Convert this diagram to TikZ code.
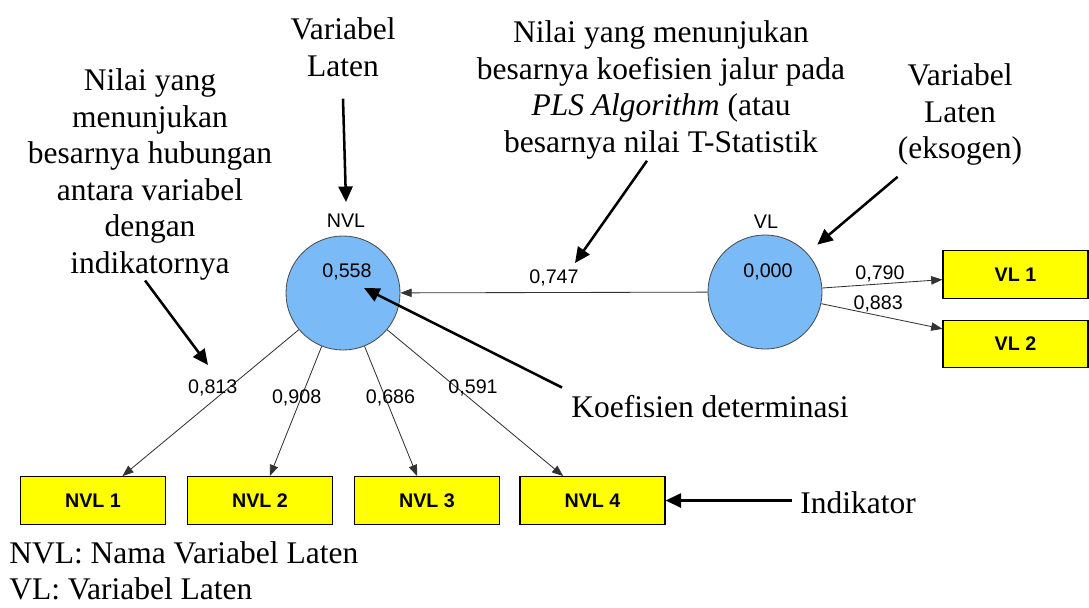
\documentclass[tikz,border=0pt]{standalone}
\usepackage{fontspec}
\setmainfont{Liberation Serif}
\setsansfont{Liberation Sans}
\usepackage{tikz}
\usetikzlibrary{arrows.meta}
\definecolor{latentblue}{RGB}{122,186,247}
\definecolor{indyellow}{RGB}{255,255,0}
\tikzset{latent/.style={circle, draw=black!70, fill=latentblue, line width=0.6pt, minimum size=2.85cm, inner sep=0pt}}
\tikzset{indicator/.style={rectangle, draw=black, fill=indyellow, line width=0.8pt, minimum width=3.625cm, minimum height=1.19cm, inner sep=0pt, font=\sffamily\bfseries\fontsize{14}{16}\selectfont}}
\tikzset{weight/.style={font=\sffamily\fontsize{14}{16}\selectfont, inner sep=1pt}}
\tikzset{loading/.style={draw=black!80, line width=0.6pt, -{Triangle[length=8pt, width=6pt]}}}
\tikzset{note/.style={font=\fontsize{22.4}{26}\selectfont, align=center, inner sep=0pt}}
\tikzset{pointer/.style={line width=1.8pt, -{Triangle[length=11pt, width=10pt]}}}

\begin{document}
\begin{tikzpicture}[x=0.025cm, y=-0.025cm]
    \useasboundingbox (0,0) rectangle (1089,607);
    \node[latent] (nvl) at (343,293) {};
    \node[weight] (nvlname) at (346,221) {NVL};
    \node[weight] (nvlr2) at (347,272) {0,558};
    \node[latent] (vl) at (765,292) {};
    \node[weight] (vlname) at (766,222) {VL};
    \node[weight] (vlr2) at (768,272) {0,000};
    \foreach \i/\x in {1/93, 2/260, 3/427, 4/592.5} {
        \node[indicator] (nvl\i) at (\x,500.5) {NVL \i};
    }
    \node[indicator] (vl1) at (1015.5,274.5) {VL 1};
    \node[indicator] (vl2) at (1015.5,344) {VL 2};
    \draw[loading] (vl) -- node[weight, above, yshift=3pt] (w747) {0,747} (nvl);
    \draw[loading] (vl) -- node[weight, pos=0.48, above] (w790) {0,790} (vl1);
    \draw[loading] (vl) -- node[weight, pos=0.47, above, yshift=1.5pt] (w883) {0,883} (vl2);
    \foreach \i/\w/\dx in {1/{0,813}/-11pt, 2/{0,908}/-3pt, 3/{0,686}/3.5pt, 4/{0,591}/11pt} {
        \draw[loading] (nvl) -- node[weight, pos=0.4, xshift=\dx] (w\i) {\w} (nvl\i);
    }
    \node[note, anchor=north] (latenttxt) at (343,17.5) {Variabel\\Laten};
    \node[note, anchor=north] (hubtxt) at (150,68.5) {Nilai yang\\menunjukan\\besarnya hubungan\\antara variabel\\dengan\\indikatornya};
    \node[note, anchor=north] (jalurtxt) at (661,20.5) {Nilai yang menunjukan\\besarnya koefisien jalur pada\\\textit{PLS Algorithm} (atau\\besarnya nilai T-Statistik};
    \node[note, anchor=north] (eksotxt) at (960,63.5) {Variabel\\Laten\\(eksogen)};
    \node[note, anchor=base west] (koeftxt) at (571,417) {Koefisien determinasi};
    \node[note, anchor=base west] (indtxt) at (800,513) {Indikator};
    \node[note, align=left, anchor=north west] (legend) at (9,541) {NVL: Nama Variabel Laten\\VL: Variabel Laten};
    \coordinate (hubtip) at (208,365);
    \coordinate (jalurtip) at (575,263);
    \coordinate (r2tip) at (364,288);
    \draw[pointer] ([yshift=-15.6pt]latenttxt.south) -- ([yshift=7.5pt]nvlname.north);
    \draw[pointer] ([xshift=-3.5pt]hubtxt.south) -- (hubtip);
    \draw[pointer] ([xshift=-10pt, yshift=-1pt]jalurtxt.south) -- (jalurtip);
    \draw[pointer] ([yshift=-7.8pt]eksotxt.south west) -- ([shift={(8.3pt,4.8pt)}]vl.north east);
    \draw[pointer] ([shift={(-6.4pt,5pt)}]koeftxt.north west) -- (r2tip);
    \draw[pointer] ([xshift=-6pt]indtxt.west |- nvl4.east) -- (nvl4.east);
\end{tikzpicture}
\end{document}
